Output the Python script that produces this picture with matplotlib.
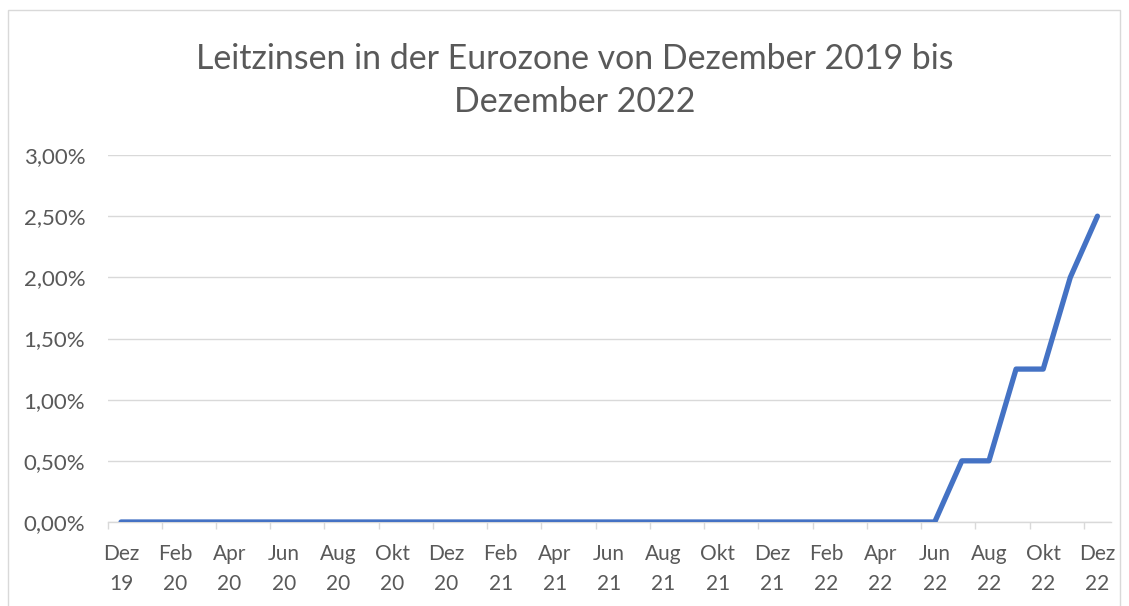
import matplotlib
matplotlib.use("Agg")
import matplotlib.pyplot as plt
from matplotlib.patches import Rectangle
from matplotlib.ticker import FixedLocator, FuncFormatter

# monthly key rate, Dez 19 .. Dez 22
months = ["Dez", "Jan", "Feb", "Mrz", "Apr", "Mai", "Jun", "Jul", "Aug", "Sep", "Okt", "Nov"]
labels = []
for year in [19, 20, 21, 22]:
    for m in (months if year > 19 else months[:1]):
        if m == "Dez":
            continue
        labels.append(f"{m}\n{year}")
    labels.append(f"Dez\n{year}")
rates = [0.0] * 31 + [0.50, 0.50, 1.25, 1.25, 2.00, 2.50]

title = "Leitzinsen in der Eurozone von Dezember 2019 bis\nDezember 2022"
yticks = [0.0, 0.5, 1.0, 1.5, 2.0, 2.5, 3.0]

plt.rcParams["font.family"] = ["Lato", "DejaVu Sans"]
grey = "#595959"

fig = plt.figure(figsize=(11.29, 6.06), dpi=100)
fig.patches.append(Rectangle((8 / 1129, -0.01), 1112 / 1129, 1 - 10 / 606 + 0.01,
                             transform=fig.transFigure, fill=False,
                             edgecolor="#D9D9D9", linewidth=1))

ax = fig.add_axes([107.5 / 1129, 1 - 522 / 606, 1003.5 / 1129, 367 / 606])
x = list(range(len(rates)))
ax.plot(x, rates, color="#4472C4", linewidth=3.8, solid_capstyle="round",
        solid_joinstyle="round", zorder=3)

ax.set_xlim(-0.5, len(rates) - 0.5)
ax.set_ylim(0, 3.0)
ax.set_yticks(yticks)
ax.yaxis.set_major_formatter(FuncFormatter(lambda v, p: f"{v:.2f}%".replace(".", ",")))
ax.grid(axis="y", color="#D9D9D9", linewidth=1)
ax.set_axisbelow(True)

ax.set_xticks(x[::2])
ax.set_xticklabels(labels[::2], linespacing=1.62)
ax.xaxis.set_minor_locator(FixedLocator([i - 0.5 for i in x[::2]]))
ax.tick_params(axis="x", which="major", length=0, pad=16, labelsize=15, colors=grey)
ax.tick_params(axis="x", which="minor", length=5, color="#D9D9D9", width=1)
ax.tick_params(axis="y", length=0, pad=16, labelsize=16, colors=grey)

for s in ["top", "right", "left"]:
    ax.spines[s].set_visible(False)
ax.spines["bottom"].set_color("#D9D9D9")
ax.spines["bottom"].set_linewidth(1)

fig.text(574.5 / 1129, 1 - 80.5 / 606, title, ha="center", va="center", fontsize=24.4,
         color=grey, linespacing=1.43)

fig.savefig("out.png", dpi=100)
